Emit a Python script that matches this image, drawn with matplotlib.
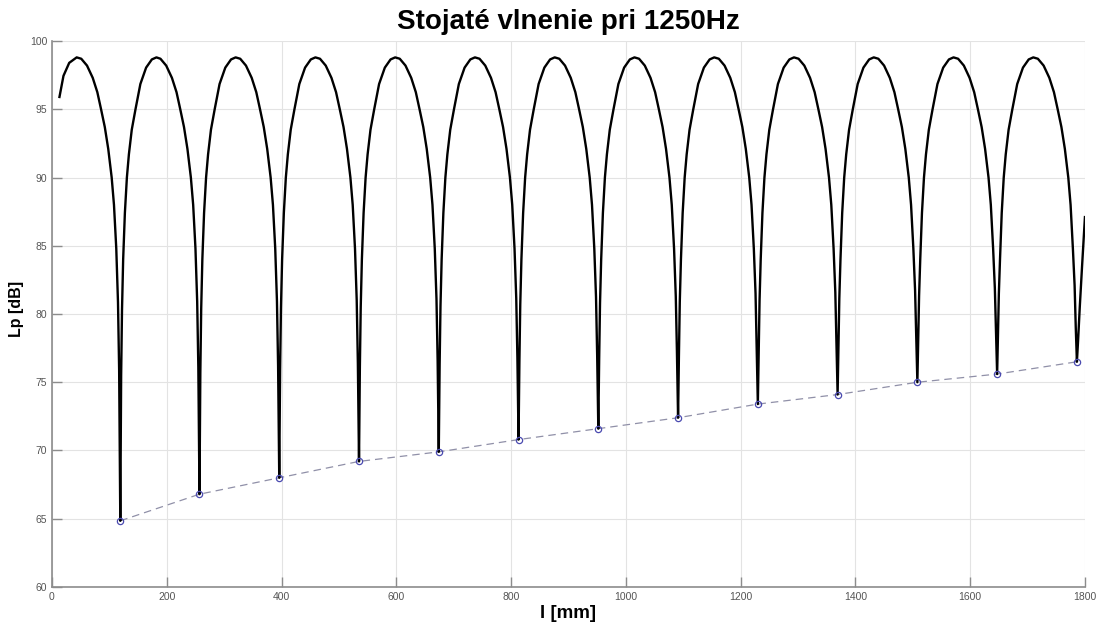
import matplotlib.pyplot as plt

# minima found on the curve (position in mm, level in dB)
min_pos = [119, 257, 396, 535, 674, 813, 952, 1091, 1230, 1369, 1508, 1647, 1786]
min_level = [64.85, 66.8, 68.0, 69.2, 69.9, 70.8, 71.6, 72.4, 73.4, 74.1, 75.0, 75.6, 76.5]

# sound pressure level along the tube
curve_x = [
    13, 20, 30, 43, 51, 61, 71, 79, 85.5, 92, 98, 104, 108, 112, 115, 117, 119,
    120.5, 122, 124, 127, 130.5, 134, 139, 145.5, 154, 164, 174, 182, 189, 199, 209, 217, 223.5, 230, 236, 242, 246, 250, 253, 255, 257,
    258.5, 260, 262, 265, 268.5, 272, 277, 283.5, 292, 302, 312, 320, 328, 338, 348, 356, 362.5, 369, 375, 381, 385, 389, 392, 394, 396,
    397.5, 399, 401, 404, 407.5, 411, 416, 422.5, 431, 441, 451, 459, 467, 477, 487, 495, 501.5, 508, 514, 520, 524, 528, 531, 533, 535,
    536.5, 538, 540, 543, 546.5, 550, 555, 561.5, 570, 580, 590, 598, 606, 616, 626, 634, 640.5, 647, 653, 659, 663, 667, 670, 672, 674,
    675.5, 677, 679, 682, 685.5, 689, 694, 700.5, 709, 719, 729, 737, 745, 755, 765, 773, 779.5, 786, 792, 798, 802, 806, 809, 811, 813,
    814.5, 816, 818, 821, 824.5, 828, 833, 839.5, 848, 858, 868, 876, 884, 894, 904, 912, 918.5, 925, 931, 937, 941, 945, 948, 950, 952,
    953.5, 955, 957, 960, 963.5, 967, 972, 978.5, 987, 997, 1007, 1015, 1023, 1033, 1043, 1051, 1057.5, 1064, 1070, 1076, 1080, 1084, 1087, 1089, 1091,
    1092.5, 1094, 1096, 1099, 1102.5, 1106, 1111, 1117.5, 1126, 1136, 1146, 1154, 1162, 1172, 1182, 1190, 1196.5, 1203, 1209, 1215, 1219, 1223, 1226, 1228, 1230,
    1231.5, 1233, 1235, 1238, 1241.5, 1245, 1250, 1256.5, 1265, 1275, 1285, 1293, 1301, 1311, 1321, 1329, 1335.5, 1342, 1348, 1354, 1358, 1362, 1365, 1367, 1369,
    1370.5, 1372, 1374, 1377, 1380.5, 1384, 1389, 1395.5, 1404, 1414, 1424, 1432, 1440, 1450, 1460, 1468, 1474.5, 1481, 1487, 1493, 1497, 1501, 1504, 1506, 1508,
    1509.5, 1511, 1513, 1516, 1519.5, 1523, 1528, 1534.5, 1543, 1553, 1563, 1571, 1579, 1589, 1599, 1607, 1613.5, 1620, 1626, 1632, 1636, 1640, 1643, 1645, 1647,
    1648.5, 1650, 1652, 1655, 1658.5, 1662, 1667, 1673.5, 1682, 1692, 1702, 1710, 1718, 1728, 1738, 1746, 1752.5, 1759, 1765, 1771, 1775, 1779, 1782, 1784, 1786,
    1788, 1791, 1795, 1800,
]
curve_y = [
    95.9, 97.45, 98.4, 98.8, 98.7, 98.2, 97.3, 96.25, 95.0, 93.7, 92.1, 90.0, 88.0, 84.8, 80.85, 75.9, 64.85,
    75.5, 80.3, 84.0, 87.4, 90.0, 91.7, 93.5, 95.0, 96.85, 98.05, 98.65, 98.8, 98.7, 98.2, 97.3, 96.25, 95.0, 93.7, 92.1, 90.0, 88.0, 84.8, 80.9, 76.1, 66.8,
    75.7, 80.4, 84.0, 87.4, 90.0, 91.7, 93.5, 95.0, 96.85, 98.05, 98.65, 98.8, 98.7, 98.2, 97.3, 96.25, 95.0, 93.7, 92.1, 90.0, 88.0, 84.8, 80.95, 76.2, 68.0,
    75.9, 80.45, 84.0, 87.4, 90.0, 91.7, 93.5, 95.0, 96.85, 98.05, 98.65, 98.8, 98.7, 98.2, 97.3, 96.25, 95.0, 93.7, 92.1, 90.0, 88.0, 84.8, 81.0, 76.4, 69.2,
    76.1, 80.5, 84.0, 87.4, 90.0, 91.7, 93.5, 95.0, 96.85, 98.05, 98.65, 98.8, 98.7, 98.2, 97.3, 96.25, 95.0, 93.7, 92.1, 90.0, 88.0, 84.8, 81.1, 76.6, 69.9,
    76.3, 80.6, 84.0, 87.4, 90.0, 91.7, 93.5, 95.0, 96.85, 98.05, 98.65, 98.8, 98.7, 98.2, 97.3, 96.25, 95.0, 93.7, 92.1, 90.0, 88.0, 84.8, 81.15, 76.8, 70.8,
    76.5, 80.7, 84.0, 87.4, 90.0, 91.7, 93.5, 95.0, 96.85, 98.05, 98.65, 98.8, 98.7, 98.2, 97.3, 96.25, 95.0, 93.7, 92.1, 90.0, 88.0, 84.8, 81.25, 77.0, 71.6,
    76.7, 80.8, 84.0, 87.4, 90.0, 91.7, 93.5, 95.0, 96.85, 98.05, 98.65, 98.8, 98.7, 98.2, 97.3, 96.25, 95.0, 93.7, 92.1, 90.0, 88.0, 84.8, 81.3, 77.25, 72.4,
    77.0, 80.9, 84.0, 87.4, 90.0, 91.7, 93.5, 95.0, 96.85, 98.05, 98.65, 98.8, 98.7, 98.2, 97.3, 96.25, 95.0, 93.7, 92.1, 90.0, 88.0, 84.8, 81.5, 77.6, 73.4,
    77.4, 81.0, 84.0, 87.4, 90.0, 91.7, 93.5, 95.0, 96.85, 98.05, 98.65, 98.8, 98.7, 98.2, 97.3, 96.25, 95.0, 93.7, 92.1, 90.0, 88.0, 84.8, 81.6, 77.9, 74.1,
    77.7, 81.15, 84.0, 87.4, 90.0, 91.7, 93.5, 95.0, 96.85, 98.05, 98.65, 98.8, 98.7, 98.2, 97.3, 96.25, 95.0, 93.7, 92.1, 90.0, 88.0, 84.8, 81.75, 78.3, 75.0,
    78.1, 81.35, 84.0, 87.4, 90.0, 91.7, 93.5, 95.0, 96.85, 98.05, 98.65, 98.8, 98.7, 98.2, 97.3, 96.25, 95.0, 93.7, 92.1, 90.0, 88.0, 84.8, 81.9, 78.6, 75.6,
    78.4, 81.5, 84.0, 87.4, 90.0, 91.7, 93.5, 95.0, 96.85, 98.05, 98.65, 98.8, 98.7, 98.2, 97.3, 96.25, 95.0, 93.7, 92.1, 90.0, 88.0, 84.8, 82.1, 79.05, 76.5,
    78.0, 80.5, 83.5, 87.1,
]

x_ticks = list(range(0, 1801, 200))
y_ticks = list(range(60, 101, 5))

plt.rcParams['font.family'] = ['Liberation Sans', 'DejaVu Sans']

fig = plt.figure(figsize=(10.97, 6.27), dpi=100)
ax = fig.add_axes([0.0474, 0.0638, 0.9416, 0.8708])

ax.plot(curve_x, curve_y, color='black', lw=1.7, zorder=3)
ax.plot(min_pos, min_level, '--', color='#9090a8', lw=0.9, dashes=(6, 4), zorder=2)
ax.plot(min_pos, min_level, 'o', mfc='none', mec='#4a4ab0', ms=4.5, mew=0.9, zorder=4)

ax.set_xlim(0, 1800)
ax.set_ylim(60, 100)
ax.set_xticks(x_ticks)
ax.set_yticks(y_ticks)
ax.grid(True, color='#e3e3e3', lw=0.8)
ax.set_axisbelow(True)

for s in ('top', 'right'):
    ax.spines[s].set_visible(False)
for s in ('left', 'bottom'):
    ax.spines[s].set_color('#8c8c8c')
    ax.spines[s].set_linewidth(1.2)
ax.tick_params(direction='in', length=7, width=1, colors='#8c8c8c',
               labelcolor='#555555', labelsize=7.5)

ax.set_title('Stojaté vlnenie pri 1250Hz', fontsize=20, fontweight='bold', pad=9)
ax.set_xlabel('l [mm]', fontsize=13.5, fontweight='bold', labelpad=2)
ax.set_ylabel('Lp [dB]', fontsize=11.5, fontweight='bold')
ax.yaxis.set_label_coords(-0.027, 0.51)

fig.savefig('out.png', dpi=100)
